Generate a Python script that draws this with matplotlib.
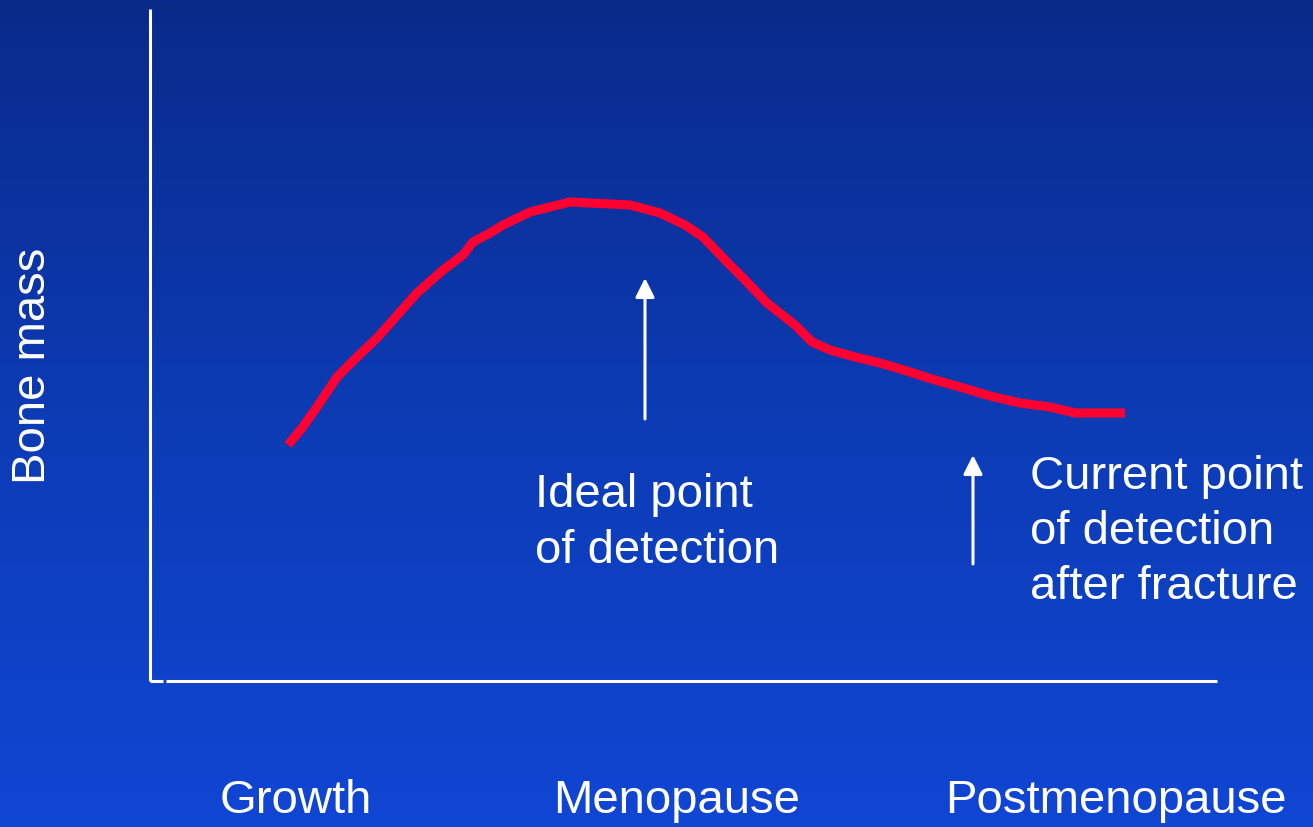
import numpy as np
import matplotlib.pyplot as plt
from matplotlib.colors import LinearSegmentedColormap

plt.rcParams['font.family'] = ['Liberation Sans', 'DejaVu Sans']

# curve (pixel coordinates, y downwards)
curve_x = [288, 302, 317, 337, 357, 378, 393, 417, 443, 463, 473, 490, 503, 530,
           570, 630, 660, 685, 703, 727, 745, 767, 795, 812, 830, 855, 880, 910,
           935, 960, 990, 1020, 1050, 1075, 1100, 1125]
curve_y = [445, 428, 407, 377, 357, 337, 320, 293, 270, 255, 242, 233, 225, 212,
           202, 205, 213, 225, 237, 262, 280, 303, 325, 342, 350, 357, 363, 372,
           380, 387, 396, 403, 407, 413, 413, 413]

x_labels = ['Growth', 'Menopause', 'Postmenopause']
x_label_pos = [296, 677, 1116]
y_label = 'Bone mass'
ideal_text = 'Ideal point\nof detection'
current_text = 'Current point\nof detection\nafter fracture'

W, H = 1313, 827
fig = plt.figure(figsize=(W / 100, H / 100), dpi=100)
ax = fig.add_axes([0, 0, 1, 1])
ax.set_xlim(0, W)
ax.set_ylim(H, 0)
ax.axis('off')

# blue gradient background
cmap = LinearSegmentedColormap.from_list('bg', ['#0a2a8a', '#0c3bb4', '#1046d4'])
grad = np.linspace(0, 1, 256).reshape(-1, 1)
ax.imshow(grad, cmap=cmap, extent=[0, W, H, 0], aspect='auto', zorder=0)

# axes lines
ax.plot([150, 150], [9, 681], color='white', lw=2.2, solid_capstyle='butt')
ax.plot([150, 163], [681, 681], color='white', lw=2.2, solid_capstyle='butt')
ax.plot([166, 1217], [680.5, 680.5], color='white', lw=2.2, solid_capstyle='butt')

# bone mass curve
ax.plot(curve_x, curve_y, color='#ff0033', lw=6.6, solid_capstyle='butt',
        solid_joinstyle='round', zorder=3)

# arrows
arrow = dict(arrowstyle='-|>', color='white', lw=2.2, mutation_scale=29,
             shrinkA=0, shrinkB=0)
ax.annotate('', xy=(645, 278), xytext=(645, 419), arrowprops=arrow)
ax.annotate('', xy=(973, 455), xytext=(973, 564), arrowprops=arrow)

fs = 34
ax.text(535, 523, ideal_text, color='white', fontsize=fs, ha='left', va='center',
        linespacing=1.33)
ax.text(1030, 532, current_text, color='white', fontsize=fs, ha='left', va='center',
        linespacing=1.33)
ax.text(33, 366, y_label, color='white', fontsize=fs, rotation=90,
        ha='center', va='center')
for lab, xp in zip(x_labels, x_label_pos):
    ax.text(xp, 801, lab, color='white', fontsize=fs, ha='center', va='center')

fig.savefig('out.png', dpi=100)
